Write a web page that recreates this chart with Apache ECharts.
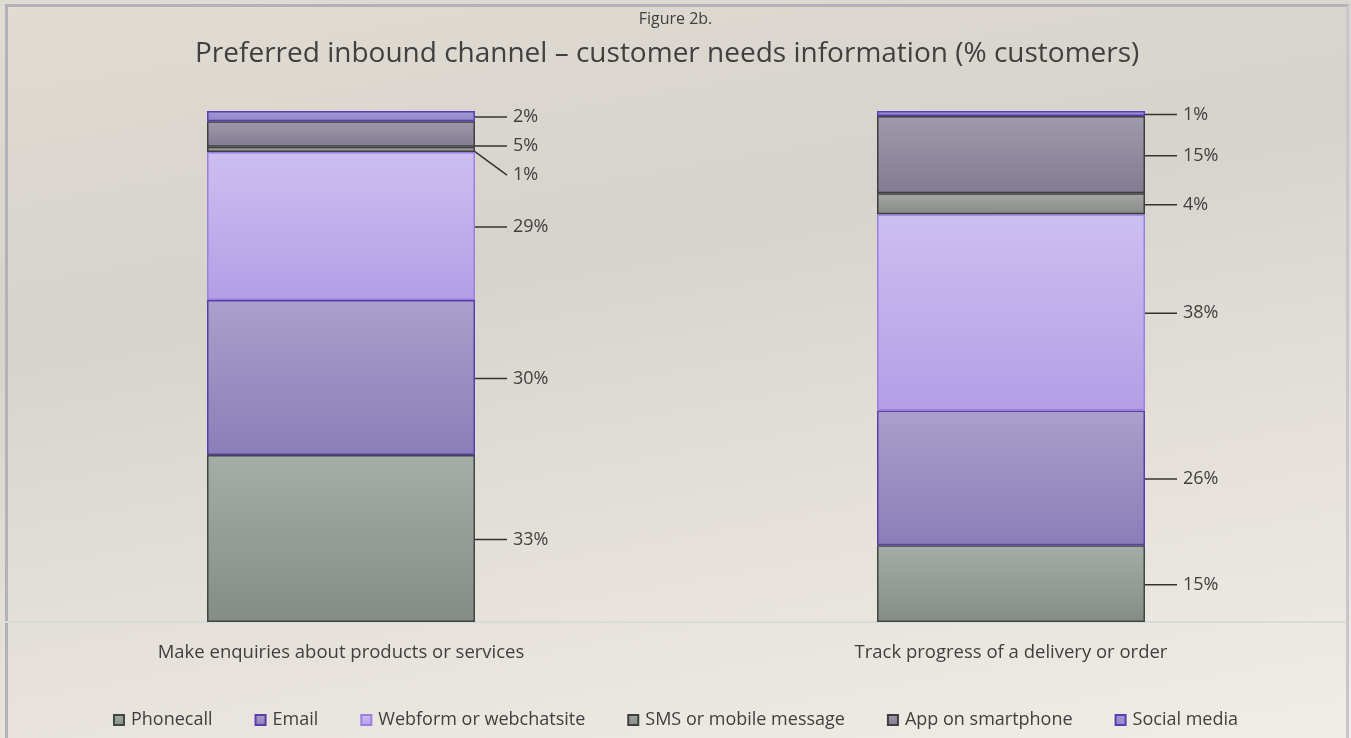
<!DOCTYPE html>
<html>
<head>
    <meta charset="utf-8">
    <title>Figure 2b</title>
    <script src="https://cdn.jsdelivr.net/npm/echarts@6/dist/echarts.min.js"></script>
    <style>
        html, body { margin: 0; padding: 0; }
        body {
            width: 1351px; height: 738px; overflow: hidden;
            background: linear-gradient(170deg, #e1dcd3 0%, #d6d3cd 35%, #e6e2db 70%, #f0ece6 100%);
        }
        #frame {
            position: absolute; left: 5px; top: 4px; width: 1338px; height: 736px;
            border-top: 3px solid #b3b1b9; border-left: 3px solid #b3b1b9;
            border-right: 3px solid #c9c6c8;
        }
        #main { position: absolute; left: 0; top: 0; width: 1351px; height: 738px; }
    </style>
</head>
<body>
<div id="frame"></div>
<div id="main"></div>
<script>
    // 数据
    var categories = ['Make enquiries about products or services', 'Track progress of a delivery or order'];
    var seriesNames = ['Phonecall', 'Email', 'Webform or webchatsite', 'SMS or mobile message', 'App on smartphone', 'Social media'];
    var phonecall = [32.7, 15.0];
    var email = [30.3, 26.4];
    var webform = [29.0, 38.4];
    var sms = [1.0, 4.1];
    var app = [5.0, 15.1];
    var social = [2.0, 1.0];

    var values = [phonecall, email, webform, sms, app, social];
    // 渐变颜色 (上, 下, 边框)
    var styles = [
        ['#a6aca8', '#858b86', '#3f4843'],
        ['#aaa0ca', '#8a7eb9', '#5a3da8'],
        ['#ccbff1', '#b39ee6', '#9a7fe0'],
        ['#a3a6a3', '#888b88', '#3e3f3e'],
        ['#9f9baa', '#837a93', '#3e3e40'],
        ['#a298d4', '#9287c8', '#5a3db2']
    ];

    var chart = echarts.init(document.getElementById('main'));

    var series = seriesNames.map(function (name, i) {
        return {
            name: name,
            type: 'bar',
            stack: 'total',
            barWidth: '40%',
            data: values[i],
            itemStyle: {
                color: new echarts.graphic.LinearGradient(0, 0, 0, 1, [
                    { offset: 0, color: styles[i][0] },
                    { offset: 1, color: styles[i][1] }
                ]),
                borderColor: styles[i][2],
                borderWidth: 1.5
            },
            label: {
                show: true,
                position: 'right',
                distance: 4,
                color: '#404040',
                fontSize: 18,
                lineHeight: 28,
                padding: [0, 0, 0, 6],
                fontFamily: 'Open Sans',
                formatter: function (p) { return Math.round(p.value) + '%'; }
            },
            labelLine: { show: true, lineStyle: { color: '#333333', width: 1.5 } }
        };
    });

    chart.setOption({
        animation: false,
        title: [{
            text: 'Figure 2b.',
            left: 'center',
            top: 6,
            textStyle: { fontSize: 16, fontWeight: 'normal', color: '#404040', fontFamily: 'Open Sans' }
        }, {
            text: 'Preferred inbound channel – customer needs information (% customers)',
            left: 190,
            top: 35,
            textStyle: { fontSize: 28, fontWeight: 'normal', color: '#404040', fontFamily: 'Open Sans' }
        }],
        legend: {
            data: seriesNames,
            bottom: 4,
            left: 'center',
            icon: 'rect',
            itemWidth: 10,
            itemHeight: 10,
            itemGap: 42,
            textStyle: { fontSize: 18, color: '#404040', fontFamily: 'Open Sans', padding: [0, 0, 0, 2] }
        },
        grid: { left: 6, right: 5, top: 111, bottom: 116 },
        xAxis: {
            type: 'category',
            data: categories,
            axisLine: { lineStyle: { color: '#d6dcd9', width: 2 } },
            axisTick: { show: false },
            axisLabel: { margin: 21, fontSize: 18.5, color: '#404040', fontFamily: 'Open Sans' }
        },
        yAxis: {
            type: 'value',
            min: 0,
            max: 100,
            show: false,
            splitLine: { show: false }
        },
        series: series
    });

    // 标签防重叠：从上往下排，最小间距
    var gap = 29;
    var labelShift = values.map(function () { return []; });
    categories.forEach(function (c, d) {
        var cum = 0;
        var centers = values.map(function (arr) {
            var mid = cum + arr[d] / 2;
            cum += arr[d];
            return chart.convertToPixel({ gridIndex: 0 }, [d, mid])[1];
        });
        var prev = -Infinity;
        for (var s = values.length - 1; s >= 0; s--) {
            var y = Math.max(centers[s], prev + gap);
            labelShift[s][d] = y - centers[s];
            prev = y;
        }
    });

    chart.setOption({
        series: seriesNames.map(function () {
            return {
                labelLayout: function (p) {
                    return { dx: 28, dy: labelShift[p.seriesIndex][p.dataIndex] + 1 };
                }
            };
        })
    });
</script>
</body>
</html>
